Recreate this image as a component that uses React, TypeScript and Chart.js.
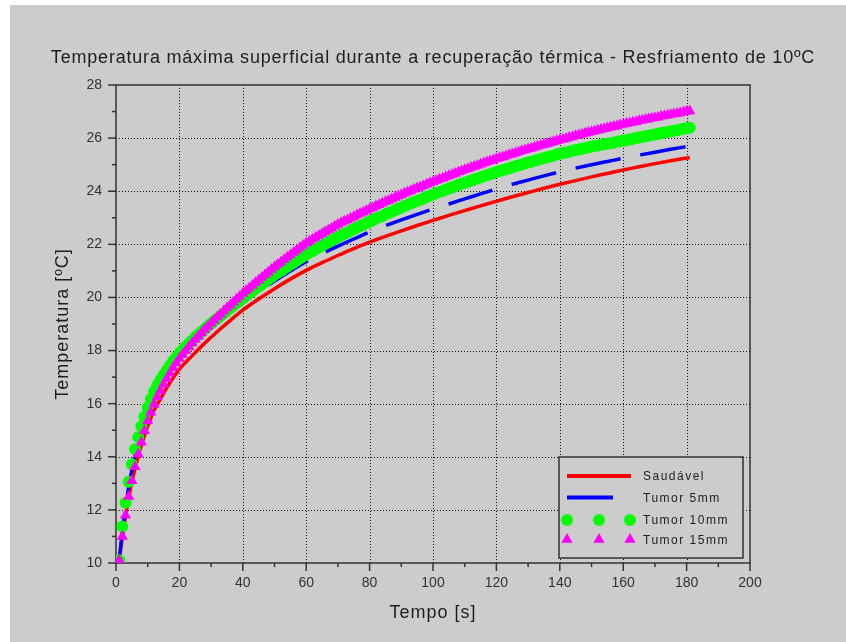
import React, { useEffect, useRef } from 'react';
import { Chart, registerables } from 'chart.js';

Chart.register(...registerables);

const TITLE = 'Temperatura máxima superficial durante a recuperação térmica - Resfriamento de 10ºC';
const X_TITLE = 'Tempo [s]';
const Y_TITLE = 'Temperatura [ºC]';
const SERIES_NAMES = ['Saudável', 'Tumor 5mm', 'Tumor 10mm', 'Tumor 15mm'];
const SERIES_COLORS = ['#ff0000', '#0000ff', '#00ff00', '#ff00ff'];

const X_MAJOR = [0, 20, 40, 60, 80, 100, 120, 140, 160, 180, 200];
const Y_MAJOR = [10, 12, 14, 16, 18, 20, 22, 24, 26, 28];

// time samples for the marker series (s)
const TIME_MARK = [
  1, 2, 3, 4, 5, 6, 7, 8, 9, 10, 11, 12, 13, 14, 15, 16, 17, 18, 19, 20,
  21, 22, 23, 24, 25, 26, 27, 28, 29, 30, 31, 32, 33, 34, 35, 36, 37, 38, 39, 40,
  41, 42, 43, 44, 45, 46, 47, 48, 49, 50, 51, 52, 53, 54, 55, 56, 57, 58, 59, 60,
  61, 62, 63, 64, 65, 66, 67, 68, 69, 70, 71, 72, 73, 74, 75, 76, 77, 78, 79, 80,
  81, 82, 83, 84, 85, 86, 87, 88, 89, 90, 91, 92, 93, 94, 95, 96, 97, 98, 99, 100,
  101, 102, 103, 104, 105, 106, 107, 108, 109, 110, 111, 112, 113, 114, 115, 116, 117, 118, 119, 120,
  121, 122, 123, 124, 125, 126, 127, 128, 129, 130, 131, 132, 133, 134, 135, 136, 137, 138, 139, 140,
  141, 142, 143, 144, 145, 146, 147, 148, 149, 150, 151, 152, 153, 154, 155, 156, 157, 158, 159, 160,
  161, 162, 163, 164, 165, 166, 167, 168, 169, 170, 171, 172, 173, 174, 175, 176, 177, 178, 179, 180, 181,
];

// Tumor 10mm (green circles)
const TUMOR_10 = [
  10.1, 11.37, 12.27, 13.06, 13.72, 14.28, 14.74, 15.15, 15.52, 15.86, 16.17, 16.45,
  16.68, 16.9, 17.08, 17.25, 17.43, 17.6, 17.75, 17.9,
  18.02, 18.14, 18.26, 18.38, 18.5, 18.6, 18.71, 18.81, 18.92, 19.02,
  19.12, 19.21, 19.31, 19.4, 19.5, 19.6, 19.69, 19.79, 19.88, 19.98,
  20.07, 20.15, 20.24, 20.33, 20.42, 20.5, 20.59, 20.68, 20.76, 20.85,
  20.93, 21.0, 21.08, 21.16, 21.24, 21.31, 21.39, 21.47, 21.54, 21.62,
  21.69, 21.75, 21.82, 21.88, 21.95, 22.02, 22.08, 22.15, 22.21, 22.28,
  22.34, 22.4, 22.45, 22.51, 22.57, 22.63, 22.69, 22.74, 22.8, 22.86,
  22.91, 22.97, 23.02, 23.07, 23.13, 23.18, 23.23, 23.28, 23.34, 23.39,
  23.44, 23.49, 23.54, 23.59, 23.64, 23.68, 23.73, 23.78, 23.83, 23.88,
  23.92, 23.97, 24.01, 24.06, 24.1, 24.14, 24.19, 24.23, 24.28, 24.32,
  24.36, 24.4, 24.44, 24.48, 24.52, 24.56, 24.6, 24.64, 24.68, 24.72,
  24.76, 24.79, 24.83, 24.86, 24.9, 24.94, 24.97, 25.01, 25.04, 25.08,
  25.11, 25.15, 25.18, 25.21, 25.25, 25.28, 25.31, 25.34, 25.38, 25.41,
  25.44, 25.46, 25.49, 25.52, 25.55, 25.57, 25.6, 25.63, 25.65, 25.68,
  25.7, 25.72, 25.75, 25.77, 25.79, 25.81, 25.83, 25.86, 25.88, 25.9,
  25.92, 25.95, 25.97, 26.0, 26.02, 26.04, 26.07, 26.09, 26.12, 26.14,
  26.16, 26.19, 26.21, 26.23, 26.26, 26.28, 26.3, 26.32, 26.35, 26.37, 26.39,
];

// Tumor 15mm (magenta triangles)
const TUMOR_15 = [
  10.1, 11.0, 11.8, 12.5, 13.1, 13.62, 14.1, 14.55, 14.98, 15.35, 15.68, 15.98,
  16.25, 16.5, 16.73, 16.94, 17.15, 17.35, 17.53, 17.7,
  17.85, 17.99, 18.13, 18.28, 18.42, 18.54, 18.66, 18.79, 18.91, 19.03,
  19.14, 19.26, 19.37, 19.49, 19.6, 19.71, 19.82, 19.93, 20.04, 20.15,
  20.25, 20.35, 20.45, 20.55, 20.65, 20.75, 20.85, 20.95, 21.05, 21.15,
  21.24, 21.33, 21.42, 21.51, 21.6, 21.69, 21.78, 21.87, 21.96, 22.05,
  22.12, 22.19, 22.26, 22.33, 22.4, 22.47, 22.54, 22.61, 22.68, 22.75,
  22.81, 22.87, 22.92, 22.98, 23.04, 23.1, 23.16, 23.21, 23.27, 23.33,
  23.38, 23.44, 23.49, 23.55, 23.6, 23.65, 23.71, 23.76, 23.82, 23.87,
  23.92, 23.97, 24.02, 24.07, 24.12, 24.16, 24.21, 24.26, 24.31, 24.36,
  24.4, 24.45, 24.49, 24.54, 24.58, 24.63, 24.67, 24.72, 24.76, 24.81,
  24.85, 24.89, 24.93, 24.97, 25.02, 25.06, 25.1, 25.14, 25.18, 25.22,
  25.26, 25.29, 25.33, 25.37, 25.4, 25.44, 25.48, 25.52, 25.55, 25.59,
  25.62, 25.66, 25.69, 25.73, 25.76, 25.79, 25.83, 25.86, 25.9, 25.93,
  25.96, 25.99, 26.02, 26.05, 26.09, 26.12, 26.15, 26.18, 26.21, 26.24,
  26.27, 26.3, 26.32, 26.35, 26.38, 26.41, 26.44, 26.46, 26.49, 26.52,
  26.55, 26.57, 26.6, 26.62, 26.65, 26.67, 26.7, 26.72, 26.75, 26.77,
  26.79, 26.82, 26.84, 26.86, 26.89, 26.91, 26.93, 26.95, 26.98, 27.0, 27.02,
];

// time samples for the line series (s)
const TIME_LINE = [
  1, 2, 3, 4, 5, 6, 7, 8, 9, 10, 11, 12, 14, 16, 18, 20, 24, 28, 32, 36, 40,
  45, 50, 55, 60, 65, 70, 75, 80, 85, 90, 95, 100, 105, 110, 115, 120, 125, 130,
  135, 140, 145, 150, 155, 160, 165, 170, 175, 181,
];

// Saudável (red solid line)
const SAUDAVEL = [
  10.1, 10.95, 11.75, 12.45, 13.05, 13.55, 14.0, 14.42, 14.8, 15.15, 15.47, 15.75,
  16.18, 16.6, 16.97, 17.3, 17.8, 18.28, 18.72, 19.13, 19.52,
  19.94, 20.33, 20.69, 21.02, 21.31, 21.58, 21.84, 22.08, 22.3, 22.51, 22.71, 22.9,
  23.09, 23.27, 23.45, 23.62, 23.79, 23.95, 24.11, 24.26, 24.4, 24.54, 24.67, 24.8,
  24.92, 25.04, 25.15, 25.27,
];

// Tumor 5mm (blue dashed line)
const TUMOR_5 = [
  10.1, 11.2, 12.1, 12.85, 13.5, 14.05, 14.5, 14.92, 15.3, 15.64, 15.95, 16.2,
  16.65, 17.05, 17.42, 17.76, 18.24, 18.68, 19.08, 19.45, 19.8,
  20.22, 20.62, 21.0, 21.35, 21.65, 21.93, 22.2, 22.46, 22.7, 22.92, 23.13, 23.33,
  23.52, 23.71, 23.9, 24.08, 24.26, 24.42, 24.58, 24.73, 24.87, 25.0, 25.12, 25.24,
  25.36, 25.47, 25.58, 25.7,
];

const FONT = '"Liberation Sans", Arial, Helvetica, sans-serif';
const BG = '#cccccc';

function pairs(xs: number[], ys: number[]) {
  return xs.map((x, i) => ({ x, y: ys[i] }));
}

export default function App() {
  const ref = useRef<HTMLCanvasElement>(null);

  useEffect(() => {
    const canvas = ref.current!;

    const decor = {
      id: 'decor',
      beforeDatasetsDraw(chart: any) {
        const { ctx, chartArea: a, scales } = chart;
        const xs = scales.x;
        const ys = scales.y;
        ctx.save();
        // dotted grid at major ticks
        ctx.strokeStyle = '#111';
        ctx.lineWidth = 1;
        ctx.setLineDash([1, 2]);
        X_MAJOR.slice(1, -1).forEach((v) => {
          const px = Math.round(xs.getPixelForValue(v)) + 0.5;
          ctx.beginPath();
          ctx.moveTo(px, a.top);
          ctx.lineTo(px, a.bottom);
          ctx.stroke();
        });
        Y_MAJOR.slice(1, -1).forEach((v) => {
          const py = Math.round(ys.getPixelForValue(v)) + 0.5;
          ctx.beginPath();
          ctx.moveTo(a.left, py);
          ctx.lineTo(a.right, py);
          ctx.stroke();
        });
        ctx.setLineDash([]);
        // frame
        ctx.strokeStyle = '#333';
        ctx.lineWidth = 1.5;
        ctx.strokeRect(a.left, a.top, a.right - a.left, a.bottom - a.top);
        // tick marks (major + minor)
        for (let v = xs.min; v <= xs.max; v += 10) {
          const len = v % 20 === 0 ? 8 : 4;
          const px = xs.getPixelForValue(v);
          ctx.beginPath();
          ctx.moveTo(px, a.bottom);
          ctx.lineTo(px, a.bottom + len);
          ctx.stroke();
        }
        for (let v = ys.min; v <= ys.max; v += 1) {
          const len = v % 2 === 0 ? 8 : 4;
          const py = ys.getPixelForValue(v);
          ctx.beginPath();
          ctx.moveTo(a.left, py);
          ctx.lineTo(a.left - len, py);
          ctx.stroke();
        }
        ctx.restore();
      },
      afterDraw(chart: any) {
        const { ctx, chartArea: a } = chart;
        ctx.save();
        // titles
        ctx.fillStyle = '#1e1e1e';
        ctx.textAlign = 'center';
        ctx.textBaseline = 'middle';
        ctx.font = `18px ${FONT}`;
        (ctx as any).letterSpacing = '0.8px';
        ctx.fillText(TITLE, (a.left + a.right) / 2, 53);
        (ctx as any).letterSpacing = '1px';
        ctx.fillText(X_TITLE, (a.left + a.right) / 2, 608);
        ctx.save();
        ctx.translate(53, (a.top + a.bottom) / 2);
        ctx.rotate(-Math.PI / 2);
        ctx.fillText(Y_TITLE, 0, 0);
        ctx.restore();
        (ctx as any).letterSpacing = '0px';

        // legend box
        const bx = 549, by = 452, bw = 184, bh = 101;
        ctx.fillStyle = BG;
        ctx.fillRect(bx, by, bw, bh);
        ctx.strokeStyle = '#333';
        ctx.lineWidth = 1.5;
        ctx.strokeRect(bx, by, bw, bh);
        const rows = [471, 492.5, 515, 534.5];
        ctx.strokeStyle = SERIES_COLORS[0];
        ctx.lineWidth = 4;
        ctx.beginPath(); ctx.moveTo(557, rows[0]); ctx.lineTo(621, rows[0]); ctx.stroke();
        ctx.strokeStyle = SERIES_COLORS[1];
        ctx.beginPath(); ctx.moveTo(557, rows[1]); ctx.lineTo(603, rows[1]); ctx.stroke();
        ctx.fillStyle = SERIES_COLORS[2];
        [557, 589, 620].forEach((cx) => {
          ctx.beginPath(); ctx.arc(cx, rows[2], 6, 0, Math.PI * 2); ctx.fill();
        });
        ctx.fillStyle = SERIES_COLORS[3];
        [557, 589, 620].forEach((cx) => {
          const r = 6.5;
          ctx.beginPath();
          ctx.moveTo(cx, rows[3] - r);
          ctx.lineTo(cx + r * 0.866, rows[3] + r / 2);
          ctx.lineTo(cx - r * 0.866, rows[3] + r / 2);
          ctx.closePath();
          ctx.fill();
        });
        ctx.fillStyle = '#222';
        ctx.font = `12px ${FONT}`;
        ctx.textAlign = 'left';
        (ctx as any).letterSpacing = '1.5px';
        SERIES_NAMES.forEach((n, i) => ctx.fillText(n, 633, rows[i] + 1));
        ctx.restore();
      },
    };

    const tickFont = { family: FONT, size: 14 };
    const chart = new Chart(canvas, {
      type: 'line',
      data: {
        datasets: [
          {
            label: SERIES_NAMES[0],
            data: pairs(TIME_LINE, SAUDAVEL),
            borderColor: SERIES_COLORS[0],
            borderWidth: 3.5,
            pointRadius: 0,
            cubicInterpolationMode: 'monotone',
            order: 4,
          },
          {
            label: SERIES_NAMES[1],
            data: pairs(TIME_LINE, TUMOR_5),
            borderColor: SERIES_COLORS[1],
            borderWidth: 3.5,
            borderDash: [46, 20],
            pointRadius: 0,
            cubicInterpolationMode: 'monotone',
            order: 3,
          },
          {
            label: SERIES_NAMES[2],
            data: pairs(TIME_MARK, TUMOR_10),
            showLine: false,
            pointStyle: 'circle',
            pointRadius: 6,
            pointBorderWidth: 0,
            pointBackgroundColor: SERIES_COLORS[2],
            pointBorderColor: SERIES_COLORS[2],
            order: 2,
          },
          {
            label: SERIES_NAMES[3],
            data: pairs(TIME_MARK, TUMOR_15),
            showLine: false,
            pointStyle: 'triangle',
            pointRadius: 6.5,
            pointBorderWidth: 0,
            pointBackgroundColor: SERIES_COLORS[3],
            pointBorderColor: SERIES_COLORS[3],
            order: 1,
          },
        ],
      } as any,
      options: {
        animation: false,
        responsive: false,
        events: [],
        layout: { padding: { top: 80, right: 96, left: 0, bottom: 0 } },
        plugins: {
          legend: { display: false },
          title: { display: false },
          tooltip: { enabled: false },
        },
        scales: {
          x: {
            type: 'linear',
            min: 0,
            max: 200,
            afterFit: (s: any) => { s.height = 79; },
            grid: { display: false, drawTicks: false },
            border: { display: false },
            ticks: { stepSize: 20, padding: 12, color: '#333', font: tickFont, maxRotation: 0, autoSkip: false },
          },
          y: {
            type: 'linear',
            min: 10,
            max: 28,
            afterFit: (s: any) => { s.width = 106; },
            grid: { display: false, drawTicks: false },
            border: { display: false },
            ticks: { stepSize: 2, padding: 14, color: '#333', font: tickFont, autoSkip: false },
          },
        },
      } as any,
      plugins: [decor],
    });
    return () => chart.destroy();
  }, []);

  return (
    <div style={{ position: 'absolute', left: 0, top: 0, width: 846, height: 642, background: '#fff' }}>
      <canvas
        ref={ref}
        width={836}
        height={637}
        style={{ position: 'absolute', left: 10, top: 5, width: 836, height: 637, background: BG }}
      />
    </div>
  );
}
